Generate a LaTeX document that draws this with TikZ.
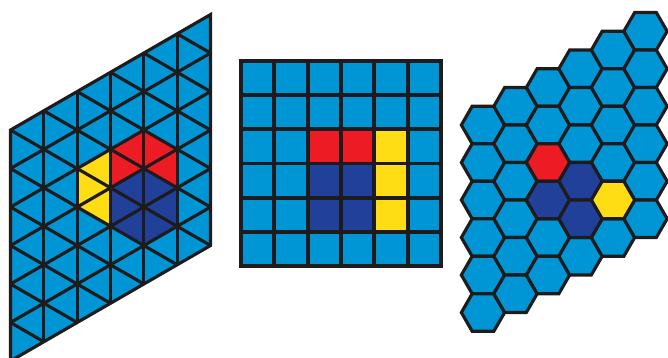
\documentclass[tikz,border=0pt]{standalone}
\usetikzlibrary{calc}
\definecolor{GridBlack}{RGB}{30,27,28}
\definecolor{CellBlue}{RGB}{0,150,214}
\definecolor{CellRed}{RGB}{237,28,36}
\definecolor{CellNavy}{RGB}{33,64,154}
\definecolor{CellYellow}{RGB}{255,221,21}
\tikzset{
  mesh/.style={draw=GridBlack,line width=2.7pt,line join=miter},
  squaremesh/.style={mesh,line width=3.3pt},
  cell/.style={fill=CellBlue},
  redcell/.style={fill=CellRed},
  navycell/.style={fill=CellNavy},
  yellowcell/.style={fill=CellYellow},
  hexcell/.style={mesh,fill=CellBlue}
}
\newcommand{\rtri}[3]{\fill[#1] (#2,#3) -- (#2,#3+1) -- (#2+1,#3) -- cycle;}
\newcommand{\ltri}[3]{\fill[#1] (#2+1,#3) -- (#2+1,#3+1) -- (#2,#3+1) -- cycle;}
\newcommand{\hexat}[3]{%
  \pgfmathsetmacro\hcx{483+32.5*#1}%
  \pgfmathsetmacro\hcy{232+18.75*#1-37.5*#2}%
  \draw[hexcell,#3] (\hcx,\hcy) ++(21.65,0) -- ++(120:21.65) -- ++(180:21.65) -- ++(240:21.65) -- ++(300:21.65) -- ++(0:21.65) -- cycle;}

\begin{document}
\begin{tikzpicture}[x=0.03cm,y=0.03cm]
  \useasboundingbox (0,0) rectangle (668,357);
  \begin{scope}[shift={(10.5,-4)},x={(1cm,0.57735cm)},y={(0cm,1.1547cm)}]
    \fill[cell] (0,0) -- (6,0) -- (6,6) -- (0,6) -- cycle;
    \ltri{yellowcell}{2}{2} \rtri{yellowcell}{2}{3} \ltri{yellowcell}{2}{3}
    \ltri{redcell}{3}{3} \rtri{redcell}{3}{3} \rtri{redcell}{4}{3} \ltri{redcell}{4}{2}
    \ltri{navycell}{3}{1} \rtri{navycell}{3}{2} \ltri{navycell}{3}{2}
    \rtri{navycell}{4}{1} \ltri{navycell}{4}{1} \rtri{navycell}{4}{2}
    \foreach \k in {1,...,5} {
      \draw[mesh] (\k,0) -- (\k,6);
      \draw[mesh] (0,\k) -- (6,\k);
    }
    \foreach \c in {1,...,11} {
      \pgfmathtruncatemacro\ia{max(0,\c-6)}
      \pgfmathtruncatemacro\ib{min(\c,6)}
      \draw[mesh] (\ia,\c-\ia) -- (\ib,\c-\ib);
    }
    \draw[mesh] (0,0) -- (6,0) -- (6,6) -- (0,6) -- cycle;
  \end{scope}
  \begin{scope}[shift={(241,91)},x=1cm,y=1.025cm]
    \fill[cell] (0,0) rectangle (6,6);
    \fill[redcell] (2,3) rectangle (4,4);
    \fill[navycell] (2,1) rectangle (4,3);
    \fill[yellowcell] (4,1) rectangle (5,4);
    \foreach \k in {1,...,5} {
      \draw[squaremesh] (\k,0) -- (\k,6);
      \draw[squaremesh] (0,\k) -- (6,\k);
    }
    \draw[squaremesh] (0,0) rectangle (6,6);
  \end{scope}
  \foreach \i in {0,...,5} {
    \foreach \j in {0,...,5} {
      \hexat{\i}{\j}{cell}
    }
  }
  \foreach \i/\j/\s in {2/2/redcell,2/3/navycell,3/3/navycell,3/4/navycell,4/4/yellowcell} {
    \hexat{\i}{\j}{\s}
  }
\end{tikzpicture}
\end{document}
